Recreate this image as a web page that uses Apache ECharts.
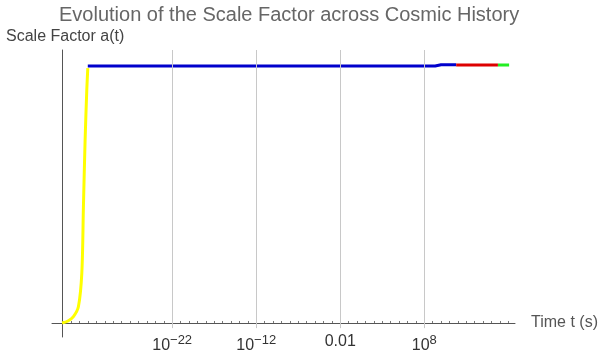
<!DOCTYPE html>
<html>
<head>
<meta charset="utf-8">
<script src="https://cdn.jsdelivr.net/npm/echarts@6/dist/echarts.min.js"></script>
<style>
  html, body { margin: 0; padding: 0; background: #fff; }
  #chart { width: 600px; height: 353px; }
</style>
</head>
<body>
<div id="chart"></div>
<script>
// x values are log10(t in seconds), y is the scale factor a(t)
var inflation = [[-35.1, 0], [-34.4, 0.008], [-33.75, 0.025], [-33.16, 0.063], [-32.75, 0.195],
                 [-32.56, 0.453], [-32.36, 0.712], [-32.16, 0.907], [-32.04, 0.992]];
var radiation = [[-32.04, 1.0], [9.3, 1.0], [10.0, 1.005], [11.8, 1.005]];
var matter = [[11.8, 1.004], [16.77, 1.004]];
var darkEnergy = [[16.77, 1.004], [18.1, 1.004]];

var majorTicks = [-22, -12, -2, 8];
var minorTicks = [];
for (var i = -35; i <= 18; i++) minorTicks.push(i);

var chart = echarts.init(document.getElementById("chart"));

function fmt(v) {
  if (v === -2) return "{b|0.01}";
  return "{b|10}{s|" + (v < 0 ? "\u2212" + (-v) : v) + "}";
}

chart.setOption({
  animation: false,
  textStyle: { fontFamily: "Liberation Sans, Arial, sans-serif" },
  title: [{
    text: "Evolution of the Scale Factor across Cosmic History",
    left: 54,
    top: 0,
    textStyle: { fontSize: 20, fontWeight: "normal", color: "#666" }
  }, {
    text: "Scale Factor a(t)",
    left: 1,
    top: 24,
    textStyle: { fontSize: 16, fontWeight: "normal", color: "#444" }
  }],
  grid: { left: 52, right: 85, top: 50, bottom: 16, outerBoundsMode: "none" },
  xAxis: {
    type: "value",
    min: -36.3,
    max: 18.8,
    name: "Time t (s)",
    nameLocation: "end",
    nameGap: 16,
    nameTextStyle: { fontSize: 16, color: "#555", padding: [6, 0, 0, 0] },
    axisLine: { onZero: true, lineStyle: { color: "#555" } },
    axisTick: { inside: true, length: 2, customValues: minorTicks, lineStyle: { color: "#777" } },
    axisLabel: {
      customValues: majorTicks,
      margin: -3,
      formatter: fmt,
      rich: {
        b: { fontSize: 16, color: "#333" },
        s: { fontSize: 13, color: "#333", padding: [0, 0, 11, 0] }
      }
    },
    splitLine: { show: false }
  },
  yAxis: {
    type: "value",
    min: -0.0545,
    max: 1.0623,
    offset: -10,
    axisLine: { show: true, onZero: false, lineStyle: { color: "#555" } },
    axisTick: { show: false },
    axisLabel: { show: false },
    splitLine: { show: false }
  },
  series: [{
    type: "line",
    data: inflation,
    smooth: 0.3,
    showSymbol: false,
    lineStyle: { color: "#ffff00", width: 3 },
    markLine: {
      silent: true,
      symbol: "none",
      label: { show: false },
      lineStyle: { color: "#c8c8c8", width: 1, type: "solid" },
      data: majorTicks.map(function (v) {
        return [{ coord: [v, 1.0623] }, { coord: [v, -0.02] }];
      })
    },
    z: 3
  }, {
    type: "line",
    data: radiation,
    showSymbol: false,
    lineStyle: { color: "#0000cc", width: 3 },
    z: 4
  }, {
    type: "line",
    data: matter,
    showSymbol: false,
    lineStyle: { color: "#dd0000", width: 3 },
    z: 4
  }, {
    type: "line",
    data: darkEnergy,
    showSymbol: false,
    lineStyle: { color: "#22ee22", width: 3 },
    z: 4
  }]
});
</script>
</body>
</html>
